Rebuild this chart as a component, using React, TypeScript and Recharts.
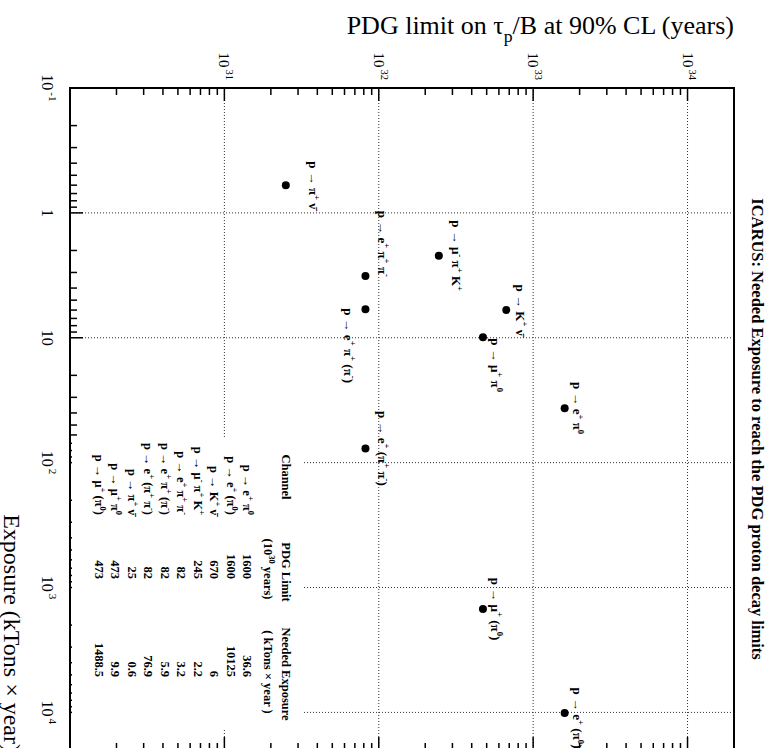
import React from 'react';
import { ScatterChart, Scatter, XAxis, YAxis, ReferenceLine } from 'recharts';

// decay channels, ROOT-like markup: ^{..} superscript, _{..} subscript
const channels = [
  'p → e^{+} π^{0}',
  'p → e^{+} (π^{0})',
  'p → K^{+} ν̄',
  'p → μ^{-} π^{+} K^{+}',
  'p → e^{+} π^{+} π^{-}',
  'p → e^{+} π^{+} (π^{-})',
  'p → e^{+} (π^{+} π^{-})',
  'p → π^{+} ν̄',
  'p → μ^{+} π^{0}',
  'p → μ^{+} (π^{0})',
];
// PDG limit in units of 10^30 years
const pdgLimits = [1600, 1600, 670, 245, 82, 82, 82, 25, 473, 473];
// needed exposure, kTons x year
const exposures = [36.6, 10125, 6, 2.2, 3.2, 5.9, 76.9, 0.6, 9.9, 1488.5];

const exposureRange = [0.1, 20000];
const limitRange = [1e30, 2e34];
const exposureDecades = [0.1, 1, 10, 100, 1000, 10000];
const limitDecades = [1e31, 1e32, 1e33, 1e34];

// where each point label sits relative to its marker (hand placed, like the original)
const labelPlacement = [
  { anchor: 'middle', dx: 0, dy: -8 },
  { anchor: 'middle', dx: 5, dy: -8 },
  { anchor: 'middle', dx: 0, dy: -10 },
  { anchor: 'middle', dx: 0, dy: -13 },
  { anchor: 'end', dx: 1, dy: -13 },
  { anchor: 'start', dx: -1, dy: 21 },
  { anchor: 'middle', dx: 0, dy: -13 },
  { anchor: 'middle', dx: 0, dy: -23 },
  { anchor: 'start', dx: 1, dy: -8.5 },
  { anchor: 'middle', dx: 0, dy: -8.5 },
];

const SERIF = '"Liberation Serif", "Times New Roman", serif';
const CW = 760; // chart is drawn unrotated, then turned 90deg clockwise
const CH = 782;
const MARGIN = { top: 48, right: 10, bottom: 40, left: 58 };
const PLOT_LEFT = MARGIN.left + 30;
const PLOT_RIGHT = CW - MARGIN.right;
const PLOT_TOP = MARGIN.top;
const PLOT_BOTTOM = CH - MARGIN.bottom - 30;

function minorTicks(lo: number, hi: number) {
  const out: number[] = [];
  for (let d = Math.floor(Math.log10(lo)); d <= Math.ceil(Math.log10(hi)); d++) {
    for (let k = 1; k <= 9; k++) {
      const v = k * Math.pow(10, d);
      if (v >= lo * 0.999 && v <= hi * 1.001) out.push(v);
    }
  }
  return out;
}

function rich(src: string, size: number) {
  const parts: React.ReactNode[] = [];
  const re = /([\^_])\{([^}]*)\}|([^^_]+)/g;
  let m: RegExpExecArray | null;
  let off = 0;
  let k = 0;
  while ((m = re.exec(src))) {
    if (m[3] !== undefined) {
      parts.push(<tspan key={k++} dy={-off} fontSize={size}>{m[3]}</tspan>);
      off = 0;
    } else {
      const target = m[1] === '^' ? -0.42 * size : 0.3 * size;
      parts.push(<tspan key={k++} dy={target - off} fontSize={size * 0.68}>{m[2]}</tspan>);
      off = target;
    }
  }
  return parts;
}

function decadeOf(v: number) {
  const e = Math.round(Math.log10(v));
  return { e, major: Math.abs(v / Math.pow(10, e) - 1) < 1e-6 };
}

function powLabel(e: number, size: number) {
  if (e === 0) return '1';
  if (e === 1) return '10';
  return (
    <>
      10
      <tspan dx={2} dy={-size * 0.45} fontSize={size * 0.7}>{e}</tspan>
    </>
  );
}

function ExposureTick(props: any) {
  const { x, payload } = props;
  const { e, major } = decadeOf(payload.value);
  const y = PLOT_BOTTOM;
  return (
    <g>
      <line x1={x} x2={x} y1={y} y2={y - (major ? 13 : 7)} stroke="#000" strokeWidth={1.5} />
      {major && (
        <text x={x} y={y + 28} textAnchor="middle" fontSize={16} fontFamily={SERIF} fill="#000" stroke="none">
          {powLabel(e, 16)}
        </text>
      )}
    </g>
  );
}

function LimitTick(props: any) {
  const { y, payload } = props;
  const { e, major } = decadeOf(payload.value);
  const len = major ? 13 : 7;
  const x = PLOT_LEFT;
  const showLabel = major && payload.value > limitRange[0] * 1.001;
  return (
    <g>
      <line x1={x} x2={x + len} y1={y} y2={y} stroke="#000" strokeWidth={1.5} />
      <line x1={PLOT_RIGHT} x2={PLOT_RIGHT - len} y1={y} y2={y} stroke="#000" strokeWidth={1.5} />
      {showLabel && (
        <text x={x - 8} y={y + 5} textAnchor="end" fontSize={15} fontFamily={SERIF} fill="#000" stroke="none">
          {powLabel(e, 15)}
        </text>
      )}
    </g>
  );
}

function PointShape(props: any) {
  const { cx, cy, payload } = props;
  const p = labelPlacement[payload.idx];
  return (
    <g>
      <circle cx={cx} cy={cy} r={4} fill="#000" />
      <text
        x={cx + p.dx}
        y={cy + p.dy}
        textAnchor={p.anchor}
        fontFamily={SERIF}
        fontWeight="bold"
        fontSize={13}
        fill="#000"
      >
        {rich(channels[payload.idx], 13)}
      </text>
    </g>
  );
}

function Overlay() {
  const rowY = (i: number) => 539 + 16.5 * i;
  const cell = { fontFamily: SERIF, fontWeight: 'bold' as const, fontSize: 12.5, fill: '#000' };
  return (
    <svg
      width={CW}
      height={CH}
      style={{ position: 'absolute', left: 0, top: 0, pointerEvents: 'none', overflow: 'visible' }}
    >
      <text x={429} y={30} textAnchor="middle" fontFamily={SERIF} fontWeight="bold" fontSize={16.5}>
        ICARUS: Needed Exposure to reach the PDG proton decay limits
      </text>
      <text transform="translate(34,48) rotate(-90)" textAnchor="end" fontFamily={SERIF} fontSize={26}>
        {rich('PDG limit on τ_{p}/B at 90% CL (years)', 26)}
      </text>
      <text x={752} y={778} textAnchor="end" fontFamily={SERIF} fontSize={24}>
        Exposure (kTons × year)
      </text>

      <rect x={438} y={480} width={290} height={230} fill="#fff" />
      <text x={477} y={500} textAnchor="middle" {...cell}>Channel</text>
      <text x={572} y={500} textAnchor="middle" {...cell}>PDG Limit</text>
      <text x={674} y={500} textAnchor="middle" {...cell}>Needed Exposure</text>
      <text x={569} y={518} textAnchor="middle" {...cell}>{rich('(10^{30} years)', 12.5)}</text>
      <text x={672} y={518} textAnchor="middle" {...cell}>( kTons × year )</text>
      {channels.map((c, i) => (
        <g key={i}>
          <text x={515} y={rowY(i)} textAnchor="end" {...cell}>{rich(c, 12.5)}</text>
          <text x={579} y={rowY(i)} textAnchor="end" {...cell}>{pdgLimits[i]}</text>
          <text x={677} y={rowY(i)} textAnchor="end" {...cell}>{String(exposures[i])}</text>
        </g>
      ))}

      {/* plot frame, drawn last so nothing covers it */}
      <rect
        x={PLOT_LEFT}
        y={PLOT_TOP}
        width={PLOT_RIGHT - PLOT_LEFT}
        height={PLOT_BOTTOM - PLOT_TOP}
        fill="none"
        stroke="#000"
        strokeWidth={2}
      />
    </svg>
  );
}

export default function App() {
  const points = pdgLimits.map((l, i) => ({ limit: l * 1e30, exposure: exposures[i], idx: i }));
  const expTicks = minorTicks(exposureRange[0], exposureRange[1]);
  const limTicks = minorTicks(limitRange[0], limitRange[1]);
  const grid = { stroke: '#333', strokeDasharray: '1 2', strokeWidth: 1 };

  return (
    <div style={{ position: 'fixed', left: 0, top: 0, width: 782, height: 748, overflow: 'hidden', background: '#fff' }}>
      <div
        style={{
          position: 'absolute',
          left: 0,
          top: 0,
          width: CW,
          height: CH,
          transform: 'translateX(782px) rotate(90deg)',
          transformOrigin: '0 0',
        }}
      >
        <ScatterChart width={CW} height={CH} margin={MARGIN}>
          <XAxis
            type="number"
            dataKey="exposure"
            scale="log"
            domain={exposureRange}
            allowDataOverflow
            ticks={expTicks}
            interval={0}
            height={30}
            tickSize={0}
            tickMargin={0}
            tick={<ExposureTick />}
            axisLine={false}
          />
          <YAxis
            type="number"
            dataKey="limit"
            scale="log"
            domain={limitRange}
            allowDataOverflow
            ticks={limTicks}
            interval={0}
            width={30}
            tickSize={0}
            tickMargin={0}
            tick={<LimitTick />}
            axisLine={false}
          />
          {exposureDecades.slice(1).map((v) => (
            <ReferenceLine key={'x' + v} x={v} {...grid} />
          ))}
          {limitDecades.map((v) => (
            <ReferenceLine key={'y' + v} y={v} {...grid} />
          ))}
          <Scatter data={points} isAnimationActive={false} shape={<PointShape />} />
        </ScatterChart>
        <Overlay />
      </div>
    </div>
  );
}
